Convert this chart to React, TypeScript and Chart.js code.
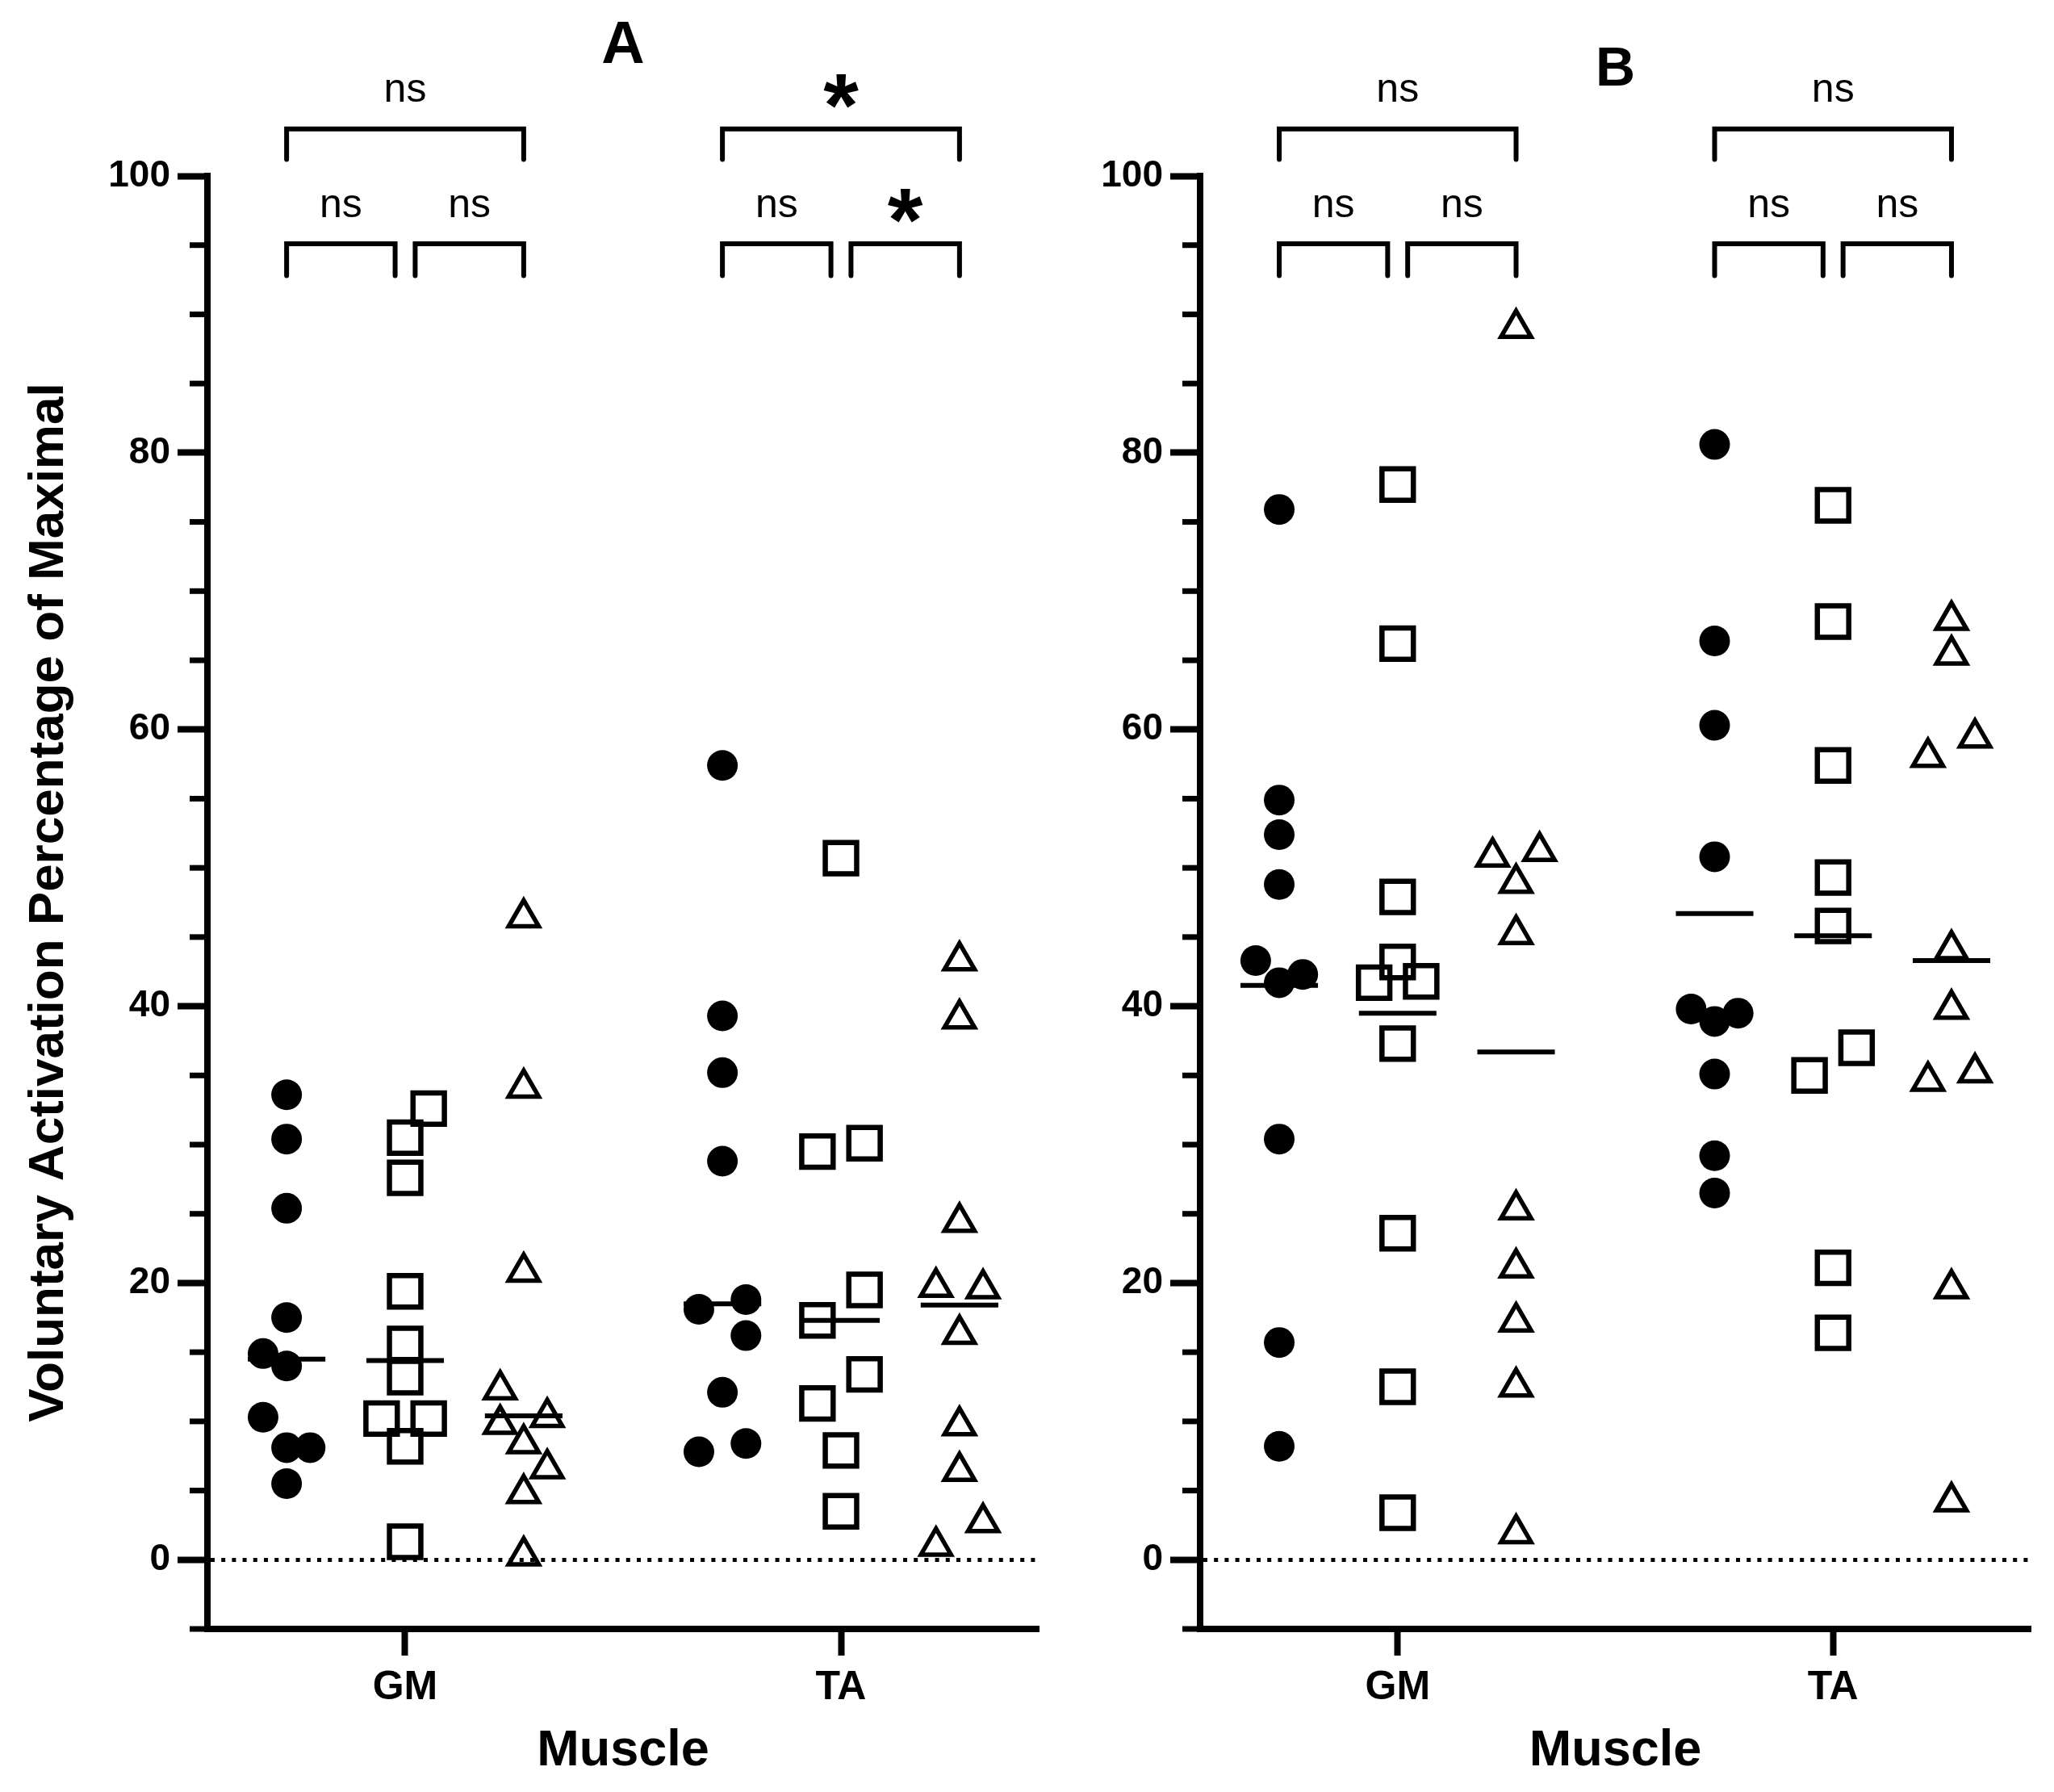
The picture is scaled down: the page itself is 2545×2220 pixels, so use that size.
import { useEffect, useRef } from "react"
import { Chart, registerables } from "chart.js"

Chart.register(...registerables)

const FONT = '"Liberation Sans", Arial, Helvetica, sans-serif'
Chart.defaults.font.family = FONT
Chart.defaults.color = "#000"

// x categories and y ticks
const muscles = ["GM", "TA"]
const yTicks = [0, 20, 40, 60, 80, 100]
const yMinorTicks = [-5, 5, 10, 15, 25, 30, 35, 45, 50, 55, 65, 70, 75, 85, 90, 95]

// Panel A values (%), slot = jitter column (-1 left, 0 centre, 1 right)
const aGmCircle = [33.6, 30.4, 25.4, 17.5, 14.9, 14.0, 10.3, 8.1, 8.1, 5.5]
const aGmCircleSlot = [0, 0, 0, 0, -1, 0, -1, 0, 1, 0]
const aGmSquare = [32.6, 30.5, 27.6, 19.4, 15.6, 13.2, 10.2, 10.2, 8.2, 1.3]
const aGmSquareSlot = [1, 0, 0, 0, 0, 0, -1, 1, 0, 0]
const aGmTriangle = [46.4, 34.1, 20.8, 12.3, 9.8, 10.3, 8.4, 6.6, 4.8, 0.3]
const aGmTriangleSlot = [0, 0, 0, -1, -1, 1, 0, 1, 0, 0]

const aTaCircle = [57.4, 39.3, 35.2, 28.8, 18.1, 18.8, 16.2, 12.1, 7.8, 8.4]
const aTaCircleSlot = [0, 0, 0, 0, -1, 1, 1, 0, -1, 1]
const aTaSquare = [50.7, 29.5, 30.1, 19.5, 17.3, 13.4, 11.3, 7.9, 3.5]
const aTaSquareSlot = [0, -1, 1, 1, -1, 1, -1, 0, 0]
const aTaTriangle = [43.3, 39.1, 24.4, 19.7, 19.6, 16.3, 9.7, 6.4, 2.7, 1.0]
const aTaTriangleSlot = [0, 0, 0, -1, 1, 0, 0, 0, 1, -1]

// Panel B values (%)
const bGmCircle = [75.9, 54.9, 52.4, 48.8, 43.3, 41.7, 42.3, 30.4, 15.7, 8.2]
const bGmCircleSlot = [0, 0, 0, 0, -1, 0, 1, 0, 0, 0]
const bGmSquare = [77.7, 66.2, 47.9, 43.2, 41.7, 41.8, 37.3, 23.6, 12.5, 3.4]
const bGmSquareSlot = [0, 0, 0, 0, -1, 1, 0, 0, 0, 0]
const bGmTriangle = [89.0, 50.8, 51.2, 48.9, 45.2, 25.3, 21.1, 17.2, 12.5, 1.9]
const bGmTriangleSlot = [0, -1, 1, 0, 0, 0, 0, 0, 0, 0]

const bTaCircle = [80.6, 66.4, 60.3, 50.8, 39.8, 38.9, 39.5, 35.1, 29.2, 26.5]
const bTaCircleSlot = [0, 0, 0, 0, -1, 0, 1, 0, 0, 0]
const bTaSquare = [76.2, 67.8, 57.4, 49.3, 45.8, 37.0, 35.0, 21.1, 16.4]
const bTaSquareSlot = [0, 0, 0, 0, 0, 1, -1, 0, 0]
const bTaTriangle = [67.9, 65.4, 59.4, 58.0, 44.1, 39.8, 34.6, 35.2, 19.6, 4.2]
const bTaTriangleSlot = [0, 0, 1, -1, 0, 0, -1, 1, 0, 0]

// median lines (circle, square, triangle)
const aGmMedian = [14.5, 14.4, 10.4]
const aTaMedian = [18.5, 17.3, 18.4]
const bGmMedian = [41.5, 39.5, 36.7]
const bTaMedian = [46.7, 45.1, 43.3]

// significance labels (circle-square, square-triangle, circle-triangle)
const aGmSig = ["ns", "ns", "ns"]
const aTaSig = ["ns", "*", "*"]
const bGmSig = ["ns", "ns", "ns"]
const bTaSig = ["ns", "ns", "ns"]

// bracket geometry in y units
const bracketFrom = [0, 1, 0]
const bracketTo = [1, 2, 2]
const bracketLevel = [95.1, 95.1, 103.4]
const bracketFoot = [92.8, 92.8, 101.2]

const GROUP_OFFSET = [-0.272, 0, 0.272]
const JITTER = 0.054
const MEDIAN_HALF = 0.089
const BRACKET_GAP = 0.023
const X_MIN = -0.4537
const X_MAX = 1.4537
const HEIGHT = 2220

const groupStyles = [
  { pointStyle: "circle", radius: 19, fill: "#000", border: 0 },
  { pointStyle: "rect", radius: 27.5, fill: "rgba(0,0,0,0)", border: 6.5 },
  { pointStyle: "triangle", radius: 21.5, fill: "rgba(0,0,0,0)", border: 5.5 },
]

interface PanelProps {
  left: number
  width: number
  yAxisWidth: number
  padRight: number
  letter: string
  letterRise: number
  letterSize: number
  showYTitle: boolean
  values: number[][][]
  slots: number[][][]
  medians: number[][]
  sig: string[][]
}

function Panel(props: PanelProps) {
  const chartRef = useRef<HTMLCanvasElement>(null)
  const chartInstance = useRef<Chart | null>(null)

  useEffect(() => {
    if (!chartRef.current) return
    if (chartInstance.current) chartInstance.current.destroy()
    const ctx = chartRef.current.getContext("2d")
    if (!ctx) return

    const datasets: any[] = []

    // median lines
    props.medians.forEach((meds, m) => {
      meds.forEach((med, g) => {
        const cx = m + GROUP_OFFSET[g]
        datasets.push({
          data: [
            { x: cx - MEDIAN_HALF, y: med },
            { x: cx + MEDIAN_HALF, y: med },
          ],
          showLine: true,
          borderColor: "#000",
          borderWidth: 6,
          pointRadius: 0,
          pointHoverRadius: 0,
        })
      })
    })

    // scatter groups
    groupStyles.forEach((st, g) => {
      const pts: { x: number; y: number }[] = []
      props.values.forEach((groups, m) => {
        groups[g].forEach((v, i) => {
          pts.push({ x: m + GROUP_OFFSET[g] + props.slots[m][g][i] * JITTER, y: v })
        })
      })
      datasets.push({
        data: pts,
        showLine: false,
        pointStyle: st.pointStyle,
        pointRadius: st.radius,
        pointHoverRadius: st.radius,
        pointBackgroundColor: st.fill,
        pointBorderColor: "#000",
        pointBorderWidth: st.border,
        pointHoverBorderWidth: st.border,
        backgroundColor: st.fill,
        borderColor: "#000",
      })
    })

    const drawCentered = (c: CanvasRenderingContext2D, text: string, cx: number, cy: number, font: string) => {
      c.font = font
      c.textAlign = "center"
      c.textBaseline = "alphabetic"
      const mt = c.measureText(text)
      c.fillText(text, cx, cy + (mt.actualBoundingBoxAscent - mt.actualBoundingBoxDescent) / 2)
    }

    const annotations = {
      id: "annotations",
      afterDraw(chart: Chart) {
        const c = chart.ctx
        const area = chart.chartArea
        const xs = chart.scales.x
        const ys = chart.scales.y
        c.save()
        c.strokeStyle = "#000"
        c.fillStyle = "#000"

        // minor y ticks
        c.lineWidth = 7
        c.lineCap = "butt"
        yMinorTicks.forEach((v) => {
          const py = ys.getPixelForValue(v)
          c.beginPath()
          c.moveTo(area.left - 22, py)
          c.lineTo(area.left + (v === -5 ? 4 : 0), py)
          c.stroke()
        })

        // significance brackets
        c.lineWidth = 6
        c.lineCap = "round"
        c.lineJoin = "miter"
        props.sig.forEach((labels, m) => {
          labels.forEach((label, k) => {
            const f = bracketFrom[k]
            const t = bracketTo[k]
            const x1 = xs.getPixelForValue(m + GROUP_OFFSET[f] + (f === 1 ? BRACKET_GAP : 0))
            const x2 = xs.getPixelForValue(m + GROUP_OFFSET[t] - (t === 1 ? BRACKET_GAP : 0))
            const yl = ys.getPixelForValue(bracketLevel[k])
            const yf = ys.getPixelForValue(bracketFoot[k])
            c.beginPath()
            c.moveTo(x1, yf)
            c.lineTo(x1, yl)
            c.lineTo(x2, yl)
            c.lineTo(x2, yf)
            c.stroke()
            const font = label === "*" ? `bold 112px ${FONT}` : `50px ${FONT}`
            drawCentered(c, label, (x1 + x2) / 2, yl - 47, font)
          })
        })

        // panel letter
        drawCentered(
          c,
          props.letter,
          (area.left + area.right) / 2,
          area.top - props.letterRise,
          `bold ${props.letterSize}px ${FONT}`
        )
        c.restore()
      },
    }

    chartInstance.current = new Chart(ctx, {
      type: "scatter",
      data: { datasets },
      options: {
        animation: false,
        responsive: false,
        maintainAspectRatio: false,
        devicePixelRatio: 1,
        events: [],
        layout: { autoPadding: false, padding: { left: 0, top: 218, right: props.padRight, bottom: 0 } },
        plugins: { legend: { display: false }, tooltip: { enabled: false } },
        scales: {
          x: {
            type: "linear",
            min: X_MIN,
            max: X_MAX,
            afterBuildTicks: (axis: any) => {
              axis.ticks = muscles.map((_, i) => ({ value: i }))
            },
            afterFit: (axis: any) => {
              axis.height = HEIGHT - 2018
            },
            ticks: {
              callback: (v: any) => muscles[Math.round(Number(v))],
              font: { size: 50, weight: "bold" },
              color: "#000",
              padding: 10,
              autoSkip: false,
              maxRotation: 0,
            },
            grid: { drawOnChartArea: false, tickLength: 33, tickWidth: 8, tickColor: "#000", color: "#000" },
            border: { display: true, color: "#000", width: 8 },
            title: {
              display: true,
              text: "Muscle",
              font: { size: 63, weight: "bold" },
              color: "#000",
              padding: { top: 0, bottom: 13 },
            },
          },
          y: {
            type: "linear",
            min: -5,
            max: 100,
            afterBuildTicks: (axis: any) => {
              axis.ticks = yTicks.map((v) => ({ value: v }))
            },
            afterFit: (axis: any) => {
              axis.width = props.yAxisWidth
            },
            ticks: { font: { size: 46, weight: "bold" }, color: "#000", padding: 9 },
            grid: {
              color: (c: any) => (c.tick && c.tick.value === 0 ? "#000" : "rgba(0,0,0,0)"),
              lineWidth: 5,
              tickLength: 37,
              tickWidth: 8,
              tickColor: "#000",
              tickBorderDash: [],
            },
            border: { display: true, color: "#000", width: 8, dash: [5, 8.2] },
            title: {
              display: props.showYTitle,
              text: "Voluntary Activation Percentage of Maximal",
              font: { size: 62, weight: "bold" },
              color: "#000",
              padding: { top: 24, bottom: 0 },
            },
          },
        },
      },
      plugins: [annotations],
    } as any)

    return () => {
      if (chartInstance.current) {
        chartInstance.current.destroy()
        chartInstance.current = null
      }
    }
  }, [props])

  return (
    <canvas
      ref={chartRef}
      width={props.width}
      height={HEIGHT}
      style={{ position: "absolute", left: props.left, top: 0, width: props.width, height: HEIGHT }}
    />
  )
}

const panelA: PanelProps = {
  left: 0,
  width: 1300,
  yAxisWidth: 257,
  padRight: 13,
  letter: "A",
  letterRise: 166,
  letterSize: 74,
  showYTitle: true,
  values: [
    [aGmCircle, aGmSquare, aGmTriangle],
    [aTaCircle, aTaSquare, aTaTriangle],
  ],
  slots: [
    [aGmCircleSlot, aGmSquareSlot, aGmTriangleSlot],
    [aTaCircleSlot, aTaSquareSlot, aTaTriangleSlot],
  ],
  medians: [aGmMedian, aTaMedian],
  sig: [aGmSig, aTaSig],
}

const panelB: PanelProps = {
  left: 1300,
  width: 1245,
  yAxisWidth: 187,
  padRight: 29,
  letter: "B",
  letterRise: 136,
  letterSize: 68,
  showYTitle: false,
  values: [
    [bGmCircle, bGmSquare, bGmTriangle],
    [bTaCircle, bTaSquare, bTaTriangle],
  ],
  slots: [
    [bGmCircleSlot, bGmSquareSlot, bGmTriangleSlot],
    [bTaCircleSlot, bTaSquareSlot, bTaTriangleSlot],
  ],
  medians: [bGmMedian, bTaMedian],
  sig: [bGmSig, bTaSig],
}

export default function App() {
  return (
    <div style={{ position: "absolute", left: 0, top: 0, width: 2545, height: HEIGHT, background: "#fff" }}>
      <Panel {...panelA} />
      <Panel {...panelB} />
    </div>
  )
}
